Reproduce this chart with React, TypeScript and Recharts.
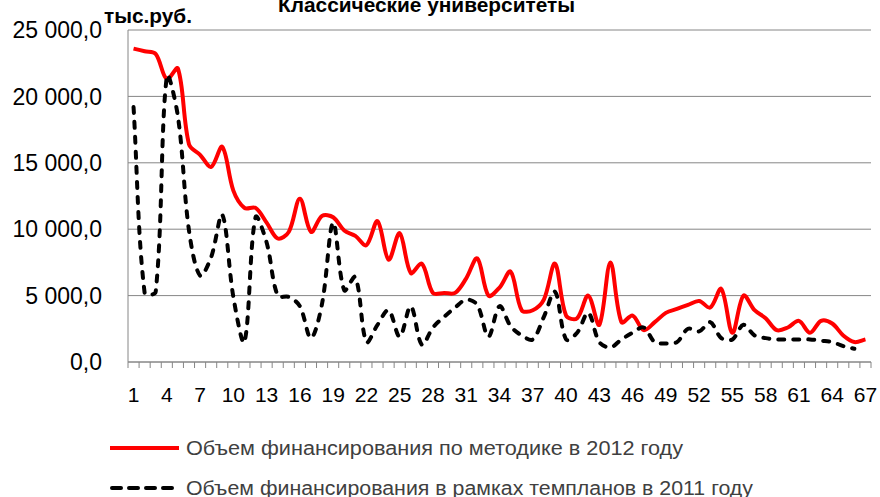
import React from 'react';
import { LineChart, Line, XAxis, YAxis, CartesianGrid } from 'recharts';

// university index, 1..67
const universities = Array.from({ length: 67 }, (_, i) => i + 1);
const labelTicks = [1, 4, 7, 10, 13, 16, 19, 22, 25, 28, 31, 34, 37, 40, 43, 46, 49, 52, 55, 58, 61, 64, 67];
const yTicks = [0, 5000, 10000, 15000, 20000, 25000];

// Объем финансирования по методике в 2012 году, тыс.руб.
const funding2012 = [
  23600, 23400, 23200, 21300, 22100, 16400, 15600, 14700, 16200, 12900,
  11600, 11600, 10500, 9300, 9800, 12300, 9800, 11000, 10900, 9900,
  9500, 8800, 10600, 7700, 9700, 6700, 7400, 5200, 5200, 5200,
  6300, 7800, 5000, 5600, 6800, 3900, 3900, 4700, 7400, 3500,
  3300, 5000, 2800, 7500, 3000, 3500, 2400, 3000, 3700, 4000,
  4300, 4600, 4100, 5500, 2200, 5000, 3900, 3300, 2400, 2600,
  3100, 2200, 3100, 2900, 2000, 1500, 1700,
];

// Объем финансирования в рамках темпланов в 2011 году, тыс.руб.
const funding2011 = [
  19200, 5200, 5300, 21500, 18500, 9900, 6500, 7900, 11100, 4900,
  1500, 10900, 9000, 5000, 4900, 4200, 1800, 4400, 10500, 5400,
  6400, 1500, 2800, 3900, 1900, 4200, 1300, 2600, 3400, 4100,
  4700, 4300, 1900, 4200, 2700, 2000, 1700, 3400, 5300, 1700,
  2200, 3700, 1500, 1100, 1700, 2200, 2600, 1500, 1400, 1500,
  2500, 2300, 3000, 1800, 1700, 2800, 2000, 1800, 1700, 1700,
  1700, 1700, 1600, 1500, 1200, 1000, null,
];

const data = universities.map((n, i) => ({ n, y2012: funding2012[i], y2011: funding2011[i] }));

// tick marks sit between categories, labels every third category
const boundaryTicks = Array.from({ length: 68 }, (_, i) => i + 0.5);
const xTicks = [...boundaryTicks, ...labelTicks].sort((a, b) => a - b);

const FONT = '"Liberation Sans", Arial, sans-serif';

// Excel-like smoothing: bezier tangents scaled by neighbouring segment lengths
const smoothCurve = (context: any) => {
  let pts: number[][] = [];
  const dist = (a: number[], b: number[]) => Math.hypot(b[0] - a[0], b[1] - a[1]);
  return {
    areaStart() {},
    areaEnd() {},
    lineStart() { pts = []; },
    point(x: number, y: number) { pts.push([+x, +y]); },
    lineEnd() {
      if (!pts.length) return;
      context.moveTo(pts[0][0], pts[0][1]);
      for (let i = 0; i < pts.length - 1; i++) {
        const p0 = pts[i - 1] || pts[i];
        const p1 = pts[i];
        const p2 = pts[i + 1];
        const p3 = pts[i + 2] || p2;
        const d01 = dist(p0, p1);
        const d12 = dist(p1, p2);
        const d23 = dist(p2, p3);
        const f1 = d12 / (d01 + d12 || 1) / 3;
        const f2 = d12 / (d12 + d23 || 1) / 3;
        context.bezierCurveTo(
          p1[0] + (p2[0] - p0[0]) * f1, p1[1] + (p2[1] - p0[1]) * f1,
          p2[0] - (p3[0] - p1[0]) * f2, p2[1] - (p3[1] - p1[1]) * f2,
          p2[0], p2[1],
        );
      }
    },
  };
};

const formatY = (v: number) => {
  const s = String(Math.round(v)).replace(/\B(?=(\d{3})+(?!\d))/g, ' ');
  return s + ',0';
};

const XTick = ({ x, y, payload }: any) => {
  const v = payload.value;
  if (v % 1 !== 0) {
    return <line x1={x} x2={x} y1={y} y2={y + 6} stroke="#868686" strokeWidth={1} />;
  }
  if (!labelTicks.includes(v)) return null;
  return (
    <text x={x} y={y + 40} textAnchor="middle" fontSize={21} fill="#000" fontFamily={FONT}>
      {v}
    </text>
  );
};

export default function App() {
  return (
    <div style={{ position: 'absolute', left: 0, top: 0, width: 880, height: 497, background: '#fff' }}>
      <LineChart
        width={880}
        height={497}
        data={data}
        margin={{ top: 30, right: 9, bottom: 85, left: 0 }}
      >
        <CartesianGrid vertical={false} stroke="#868686" strokeWidth={1} />
        <XAxis
          dataKey="n"
          type="number"
          domain={[0.5, 67.5]}
          ticks={xTicks}
          interval={0}
          tick={<XTick />}
          tickLine={false}
          tickSize={0}
          tickMargin={0}
          height={50}
          stroke="#868686"
        />
        <YAxis
          domain={[0, 25000]}
          ticks={yTicks}
          tickFormatter={formatY}
          width={128}
          tickLine={false}
          tickSize={0}
          tickMargin={26}
          stroke="#868686"
          tick={{ fontSize: 23, fill: '#000', fontFamily: FONT }}
        />
        <Line
          dataKey="y2012"
          type={smoothCurve as any}
          stroke="#ff0000"
          strokeWidth={4}
          dot={false}
          isAnimationActive={false}
        />
        <Line
          dataKey="y2011"
          type={smoothCurve as any}
          stroke="#000"
          strokeWidth={4}
          strokeDasharray="6 9"
          strokeLinecap="round"
          dot={false}
          isAnimationActive={false}
        />
      </LineChart>
      <svg
        width={880}
        height={497}
        style={{ position: 'absolute', left: 0, top: 0, pointerEvents: 'none' }}
      >
        <text x={278} y={12} textLength={297} lengthAdjust="spacingAndGlyphs" fontSize={20} fontWeight="bold" fill="#000" fontFamily={FONT}>
          Классические университеты
        </text>
        <text x={104} y={23} textLength={88} lengthAdjust="spacingAndGlyphs" fontSize={20} fontWeight="bold" fill="#000" fontFamily={FONT}>
          тыс.руб.
        </text>
        <line x1={110} x2={179} y1={448} y2={448} stroke="#ff0000" strokeWidth={4} />
        <text x={186} y={455} textLength={497} lengthAdjust="spacingAndGlyphs" fontSize={20} fill="#404040" fontFamily={FONT}>
          Объем финансирования по методике в 2012 году
        </text>
        <line x1={112} x2={180} y1={488} y2={488} stroke="#000" strokeWidth={4} strokeDasharray="9 8" strokeLinecap="round" />
        <text x={186} y={495} textLength={567} lengthAdjust="spacingAndGlyphs" fontSize={20} fill="#404040" fontFamily={FONT}>
          Объем финансирования в рамках темпланов в 2011 году
        </text>
      </svg>
    </div>
  );
}
